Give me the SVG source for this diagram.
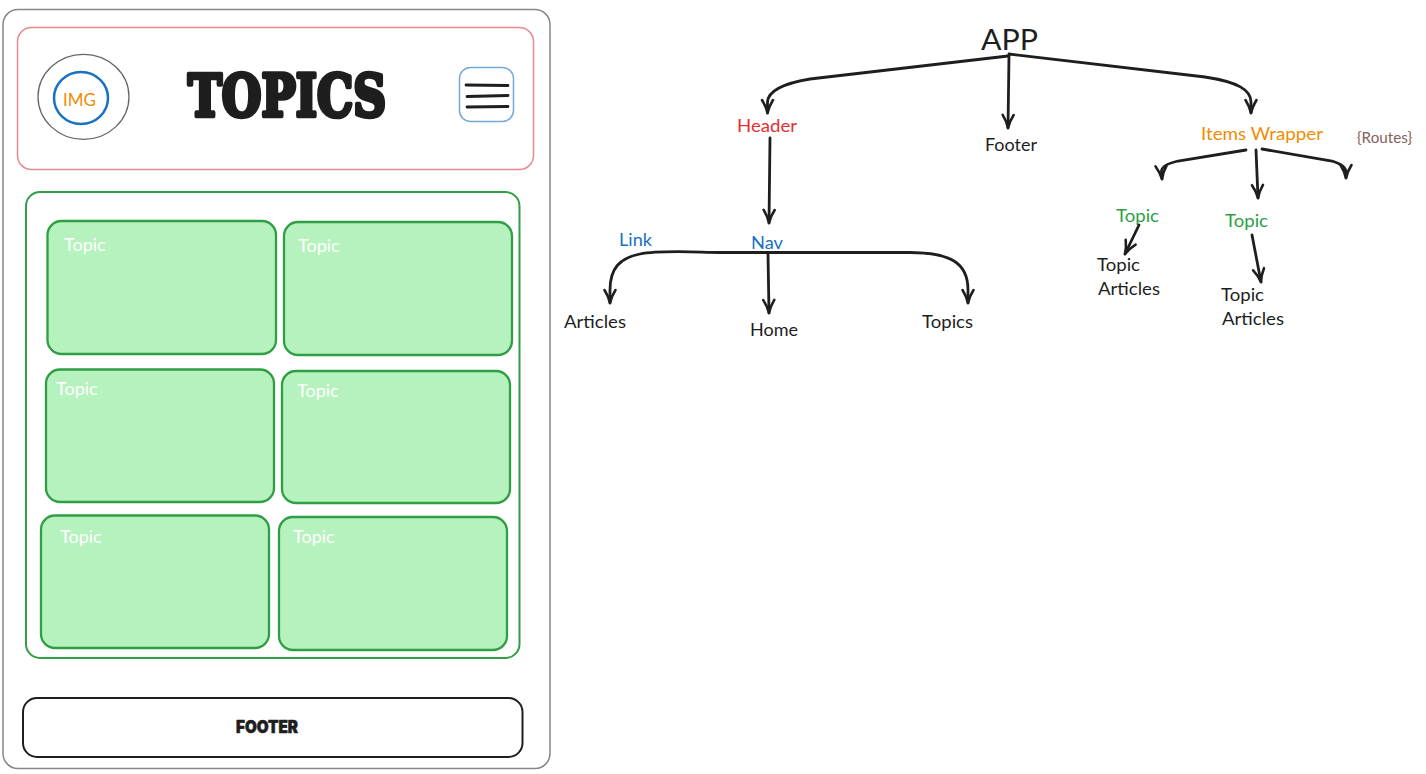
<svg xmlns="http://www.w3.org/2000/svg" width="1426" height="774" viewBox="0 0 1426 774">
<style>
text{font-family:"Lato","Noto Sans",sans-serif;fill:#1e1e1e;font-size:18px}
.card{fill:#b5f2bd;stroke:#2f9e44;stroke-width:2.3}
.tw{fill:#fff;font-size:18px}
.edge{fill:none;stroke:#1e1e1e;stroke-width:2.8;stroke-linecap:round;marker-end:url(#v)}
.heavy{font-family:"Inter","Liberation Sans",sans-serif;font-weight:900;stroke:#1e1e1e;stroke-linejoin:round}
.slab{font-family:"DejaVu Serif",serif;font-weight:700;stroke:#1e1e1e;stroke-linejoin:round}
</style>
<defs><marker id="v" markerUnits="userSpaceOnUse" markerWidth="24" markerHeight="24" refX="18" refY="12" orient="auto"><path d="M5 6.500 C9 9 13 11 18 12 C13 13 9 15 5 17.500" fill="none" stroke="#1e1e1e" stroke-width="2.600" stroke-linecap="round" stroke-linejoin="round"/></marker></defs>
<rect width="1426" height="774" fill="#fff"/>
<g id="page"><rect x="3" y="9.500" width="547" height="759" rx="15" fill="#fff" stroke="#868686" stroke-width="1.500"/></g>
<g id="header"><rect x="17.500" y="27.500" width="516" height="142" rx="14" fill="#fff" stroke="#e98a8e" stroke-width="1.500"/></g>
<g id="logo"><ellipse cx="83.500" cy="96.800" rx="45.500" ry="42.500" fill="none" stroke="#666" stroke-width="1.300"/><ellipse cx="81" cy="98" rx="27" ry="26" fill="none" stroke="#1971c2" stroke-width="2.500"/><text x="63" y="106" style="fill:#f08c00" textLength="33" lengthAdjust="spacingAndGlyphs">IMG</text></g>
<g id="title"><text class="slab" x="188" y="115.500" stroke-width="4.500" textLength="198" lengthAdjust="spacingAndGlyphs" style="font-size:57px">TOPICS</text></g>
<g id="menu"><rect x="459.500" y="67.500" width="54" height="54" rx="11" fill="none" stroke="#74a9dc" stroke-width="1.500"/><path d="M466 85 L508 85.500M467 96.500 L508 95.500M467 107 L508 106.500" fill="none" stroke="#1e1e1e" stroke-width="2.800" stroke-linecap="round"/></g>
<g id="topics-wrapper"><rect x="26" y="192" width="493.500" height="466" rx="14" fill="#fff" stroke="#2f9e44" stroke-width="2"/></g>
<g id="card-1"><rect class="card" x="47.500" y="221" width="228.500" height="133" rx="14"/><text class="tw" x="64" y="251">Topic</text></g>
<g id="card-2"><rect class="card" x="284" y="222" width="228" height="133" rx="14"/><text class="tw" x="298" y="252">Topic</text></g>
<g id="card-3"><rect class="card" x="46" y="369.500" width="228" height="132.500" rx="14"/><text class="tw" x="56" y="395">Topic</text></g>
<g id="card-4"><rect class="card" x="282" y="371" width="228" height="132" rx="14"/><text class="tw" x="297" y="397">Topic</text></g>
<g id="card-5"><rect class="card" x="41" y="515.500" width="228" height="132.500" rx="14"/><text class="tw" x="60" y="543">Topic</text></g>
<g id="card-6"><rect class="card" x="279" y="517" width="228" height="133" rx="14"/><text class="tw" x="293" y="543">Topic</text></g>
<g id="footer"><rect x="23" y="698" width="499.500" height="59" rx="14" fill="#fff" stroke="#1e1e1e" stroke-width="2"/><text class="heavy" x="236" y="733" stroke-width=".6" textLength="62" lengthAdjust="spacingAndGlyphs" style="font-size:17px">FOOTER</text></g>
<g id="n-app"><text x="981" y="50" textLength="57" lengthAdjust="spacingAndGlyphs" style="font-size:29px">APP</text></g>
<g id="n-header"><text x="737" y="132" textLength="60" lengthAdjust="spacingAndGlyphs" style="fill:#e03131">Header</text></g>
<g id="n-footer"><text x="985" y="151" textLength="52" lengthAdjust="spacingAndGlyphs">Footer</text></g>
<g id="n-items"><text x="1201" y="140" textLength="122" lengthAdjust="spacingAndGlyphs" style="fill:#f08c00">Items Wrapper</text></g>
<g id="n-routes"><text x="1357" y="143" textLength="55" lengthAdjust="spacingAndGlyphs" style="fill:#846358;font-size:14.500px">{Routes}</text></g>
<g id="n-link"><text x="619" y="246" textLength="33" lengthAdjust="spacingAndGlyphs" style="fill:#1971c2">Link</text></g>
<g id="n-nav"><text x="751" y="249" textLength="32" lengthAdjust="spacingAndGlyphs" style="fill:#1971c2">Nav</text></g>
<g id="n-articles"><text x="564" y="328" textLength="62" lengthAdjust="spacingAndGlyphs">Articles</text></g>
<g id="n-home"><text x="750" y="336" textLength="48" lengthAdjust="spacingAndGlyphs">Home</text></g>
<g id="n-topics"><text x="922" y="328" textLength="51" lengthAdjust="spacingAndGlyphs">Topics</text></g>
<g id="n-topic-1"><text x="1116" y="222" textLength="43" lengthAdjust="spacingAndGlyphs" style="fill:#2f9e44">Topic</text></g>
<g id="n-topic-2"><text x="1225" y="227" textLength="43" lengthAdjust="spacingAndGlyphs" style="fill:#2f9e44">Topic</text></g>
<g id="n-ta-1"><text x="1097" y="271" textLength="43" lengthAdjust="spacingAndGlyphs">Topic</text><text x="1098" y="295" textLength="62" lengthAdjust="spacingAndGlyphs">Articles</text></g>
<g id="n-ta-2"><text x="1221" y="301" textLength="43" lengthAdjust="spacingAndGlyphs">Topic</text><text x="1222" y="325" textLength="62" lengthAdjust="spacingAndGlyphs">Articles</text></g>
<g id="connectors">
<path class="edge" d="M1008 56 L810 79 C780 84 768 92 767.500 102 L767.500 113"/>
<path class="edge" d="M1009 55 L1008 128"/>
<path class="edge" d="M1009 54 L1205 77 C1238 82 1251 90 1251 102 L1251 113"/>
<path class="edge" d="M770 138 L769 223"/>
<path class="edge" d="M720 252.500 C690 252 660 250 640 254 C620 258 610 268 610 290 L610 303"/>
<path class="edge" d="M720 252.500 L910 252.500 C950 253 968 262 968 290 L968 303"/>
<path class="edge" d="M768 254 L769 313"/>
<path class="edge" d="M1246 150 L1178 161 C1165 164 1161 168 1161.500 172 L1162 179"/>
<path class="edge" d="M1256 150 L1258 198"/>
<path class="edge" d="M1262 149 L1332 161 C1342 164 1346 168 1346 172 L1346 178"/>
<path class="edge" d="M1139 225 L1125 254"/>
<path class="edge" d="M1252 235 L1261 282"/>
</g>
</svg>
